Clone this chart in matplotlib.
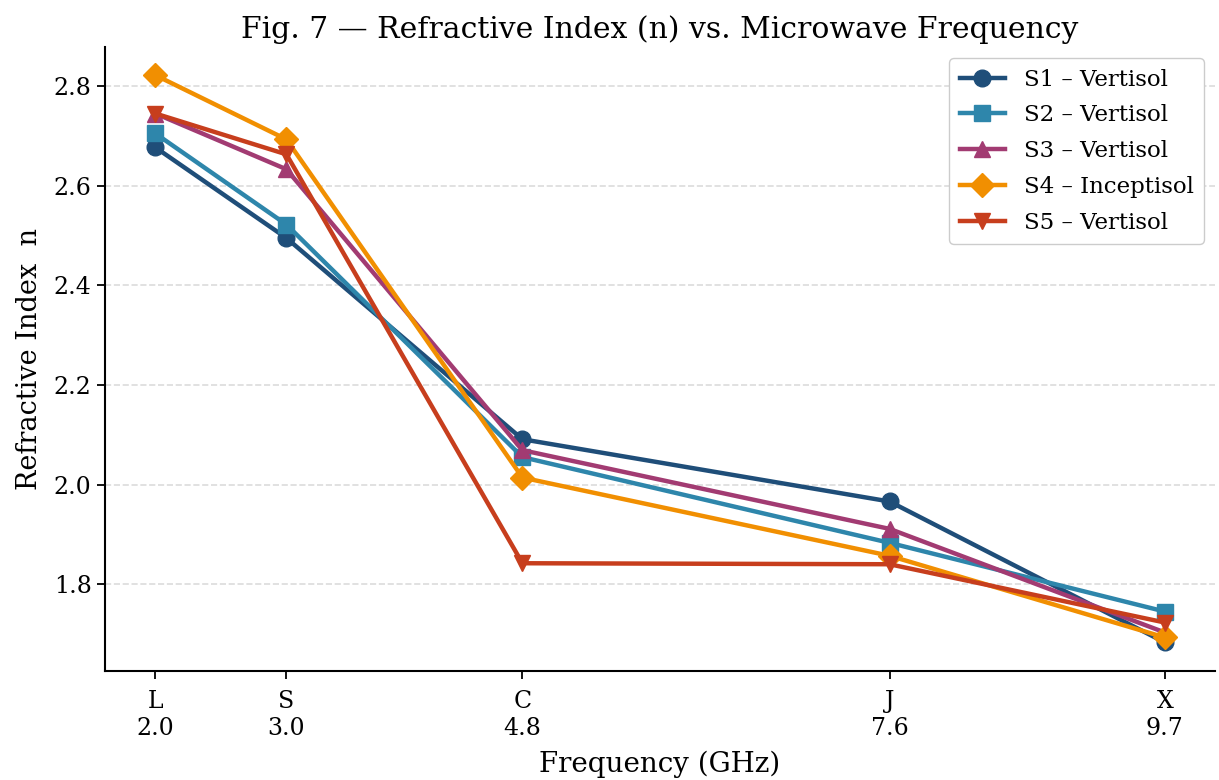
import matplotlib
matplotlib.use("Agg")
import matplotlib.pyplot as plt

plt.rcParams['font.family'] = ['DejaVu Serif']

bands = ["L", "S", "C", "J", "X"]
freq = [2.0, 3.0, 4.8, 7.6, 9.7]

s1 = [2.677, 2.495, 2.091, 1.966, 1.683]
s2 = [2.705, 2.522, 2.055, 1.883, 1.745]
s3 = [2.745, 2.633, 2.069, 1.911, 1.703]
s4 = [2.822, 2.693, 2.014, 1.857, 1.693]
s5 = [2.745, 2.663, 1.842, 1.840, 1.723]

labels = ["S1 – Vertisol", "S2 – Vertisol", "S3 – Vertisol",
          "S4 – Inceptisol", "S5 – Vertisol"]
colors = ["#1f4e79", "#2e86ab", "#a23b72", "#f18f01", "#c73e1d"]
markers = ["o", "s", "^", "D", "v"]

fig, ax = plt.subplots(figsize=(12.19, 7.8), dpi=100)

for vals, lab, c, m in zip([s1, s2, s3, s4, s5], labels, colors, markers):
    ax.plot(freq, vals, marker=m, color=c, label=lab, linewidth=3.2,
            markersize=12)

ax.set_xticks(freq)
ax.set_xticklabels([f"{b}\n{f:.1f}" for b, f in zip(bands, freq)], fontsize=17)
ax.tick_params(axis='y', labelsize=17)
ax.tick_params(axis='x', pad=8)
ax.tick_params(length=6, width=1.3)
ax.set_yticks([1.8, 2.0, 2.2, 2.4, 2.6, 2.8])
ax.yaxis.grid(True, linestyle='--', color='#dcdcdc', linewidth=1.2)
ax.set_axisbelow(True)
ax.spines['top'].set_visible(False)
ax.spines['right'].set_visible(False)
ax.spines['left'].set_linewidth(1.5)
ax.spines['bottom'].set_linewidth(1.5)

ax.set_title("Fig. 7 — Refractive Index (n) vs. Microwave Frequency", fontsize=21.5)
ax.set_xlabel("Frequency (GHz)", fontsize=20, labelpad=8)
ax.set_ylabel("Refractive Index  n", fontsize=19.5, labelpad=8)
ax.legend(loc='upper right', fontsize=16.5, framealpha=1, handlelength=2,
          borderpad=0.45, labelspacing=0.6)

fig.subplots_adjust(left=0.086, right=0.997, top=0.94, bottom=0.14)
fig.savefig("out.png", dpi=100)
